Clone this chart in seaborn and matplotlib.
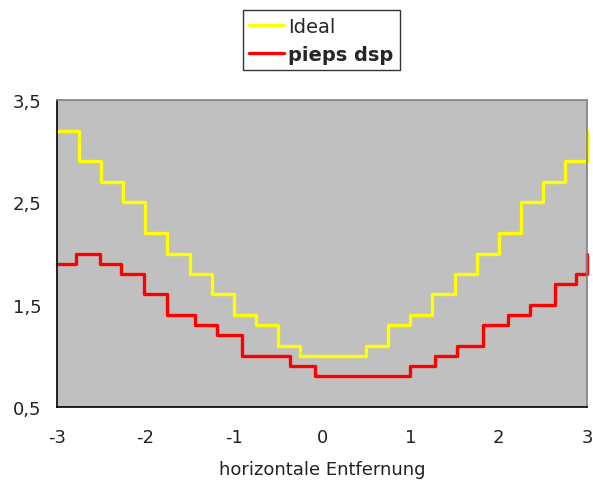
import pandas as pd
import matplotlib
matplotlib.use("Agg")
import matplotlib.pyplot as plt
import seaborn as sns

# step positions and values
ideal_x = [-3, -2.75, -2.5, -2.25, -2, -1.75, -1.5, -1.25, -1, -0.75, -0.5, -0.25, 0,
           0.25, 0.5, 0.75, 1, 1.25, 1.5, 1.75, 2, 2.25, 2.5, 2.75, 3]
ideal_y = [3.2, 2.9, 2.7, 2.5, 2.2, 2.0, 1.8, 1.6, 1.4, 1.3, 1.1, 1.0, 1.0,
           1.0, 1.1, 1.3, 1.4, 1.6, 1.8, 2.0, 2.2, 2.5, 2.7, 2.9, 3.2]
pieps_x = [-3, -2.78, -2.51, -2.27, -2.02, -1.76, -1.44, -1.19, -0.91, -0.36, -0.08,
           1.0, 1.28, 1.53, 1.82, 2.11, 2.36, 2.64, 2.88, 3.0]
pieps_y = [1.9, 2.0, 1.9, 1.8, 1.6, 1.4, 1.3, 1.2, 1.0, 0.9, 0.8,
           0.9, 1.0, 1.1, 1.3, 1.4, 1.5, 1.7, 1.8, 2.0]
y_ticks = [0.5, 1.5, 2.5, 3.5]
y_labels = ["0,5", "1,5", "2,5", "3,5"]
x_ticks = [-3, -2, -1, 0, 1, 2, 3]

df = pd.concat([
    pd.DataFrame({"x": ideal_x, "y": ideal_y, "serie": "Ideal"}),
    pd.DataFrame({"x": pieps_x, "y": pieps_y, "serie": "pieps dsp"}),
])

sns.set_style("white")
plt.rcParams["font.family"] = ["DejaVu Sans"]

fig = plt.figure(figsize=(5.93, 4.85), dpi=100)
ax = fig.add_axes([57/593, 1-408/485, 530/593, 307/485])
sns.lineplot(data=df, x="x", y="y", hue="serie", estimator=None, sort=False,
             palette={"Ideal": "#ffff00", "pieps dsp": "#ff0000"},
             drawstyle="steps-post", linewidth=2.4, ax=ax, legend=False)
for line in ax.lines:
    line.set_clip_on(False)

ax.set_facecolor("#c0c0c0")
ax.set_xlim(-3, 3)
ax.set_ylim(0.5, 3.5)
ax.set_xticks(x_ticks)
ax.set_xticklabels([str(t) for t in x_ticks])
ax.set_yticks(y_ticks)
ax.set_yticklabels(y_labels)
ax.tick_params(axis="both", direction="out", length=6, width=1, color="black",
               labelsize=13, labelcolor="#222222")
ax.tick_params(axis="x", pad=9)
ax.tick_params(axis="y", pad=5)
ax.set_xlabel("horizontale Entfernung", fontsize=13, color="#222222", labelpad=10)
ax.set_ylabel("")
for side in ["left", "bottom"]:
    ax.spines[side].set_color("black")
    ax.spines[side].set_linewidth(1.2)
for side in ["top", "right"]:
    ax.spines[side].set_color("#808080")
    ax.spines[side].set_linewidth(1.2)

h1, = ax.plot([], [], color="#ffff00", linewidth=2.4)
h2, = ax.plot([], [], color="#ff0000", linewidth=2.4)
leg = fig.legend([h1, h2], ["Ideal", "pieps dsp"], loc="center",
                 bbox_to_anchor=(0.542, 0.915), frameon=True, fancybox=False,
                 edgecolor="black", fontsize=14, handlelength=1.8,
                 handletextpad=0.2, labelspacing=0.45, borderpad=0.35)
leg.get_frame().set_linewidth(1.0)
leg.get_texts()[1].set_fontweight("bold")

fig.savefig("out.png", dpi=100)
